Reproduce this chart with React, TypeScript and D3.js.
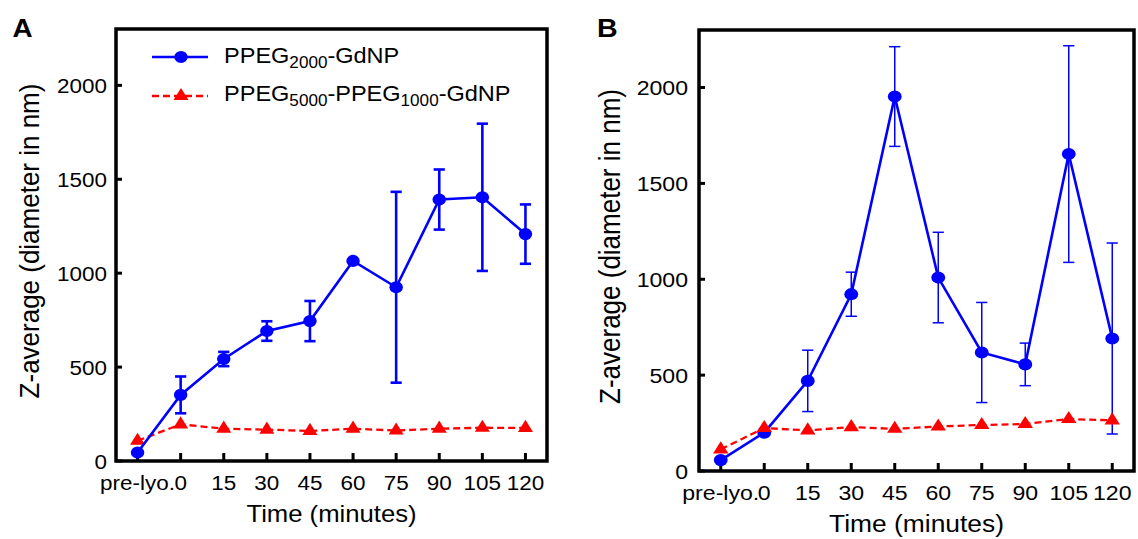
import React from 'react';
import * as d3 from 'd3';

// categories on the x axis
const times = ['pre-lyo.', '0', '15', '30', '45', '60', '75', '90', '105', '120'];
const yTicks = [0, 500, 1000, 1500, 2000];

// panel A
const aBlue = [45, 352, 543, 692, 745, 1065, 925, 1392, 1404, 1208];
const aBlueErr = [0, 98, 38, 52, 107, 0, 508, 160, 392, 158];
const aRed = [108, 195, 172, 167, 160, 172, 162, 172, 177, 176];

// panel B
const bBlue = [57, 200, 470, 922, 1953, 1009, 618, 556, 1653, 691];
const bBlueErr = [0, 0, 160, 115, 260, 236, 261, 111, 565, 498];
const bRed = [113, 224, 212, 229, 220, 232, 240, 245, 271, 264];

const FONT = '"Liberation Sans", Arial, Helvetica, sans-serif';
const BLUE = '#0000FF';
const RED = '#FF0000';

const triangle = d3.symbol().type(d3.symbolTriangle).size(85)();

// text that is a little wider than the font (the figure is stretched sideways)
const T = ({ x, y, k, size, anchor = 'start', bold = false, rotate = false, dy, children }: any) => (
  <text
    transform={`translate(${x},${y}) scale(${k},1)${rotate ? ' rotate(-90)' : ''}`}
    textAnchor={anchor}
    fontSize={size}
    fontWeight={bold ? 'bold' : 'normal'}
    dy={dy}
  >
    {children}
  </text>
);

type PanelProps = {
  letter: string;
  left: number;
  right: number;
  top: number;
  bottom: number;
  k: number;
  letterX: number;
  titleX: number;
  labelGap: number;
  blue: number[];
  blueErr: number[];
  red: number[];
  errWidth: number;
  redOnTop: boolean;
  legend?: boolean;
};

const Panel = (p: PanelProps) => {
  const x = d3.scalePoint<string>().domain(times).range([p.left, p.right]).padding(0.5);
  const y = d3.scaleLinear().domain([0, 2300]).range([p.bottom, p.top]);
  const cap = 5.6;

  const line = d3
    .line<number>()
    .x((_, i) => x(times[i]) as number)
    .y((d) => y(d));

  const blueGroup = (
    <g key="blue">
      {p.blue.map((v, i) => {
        if (!p.blueErr[i]) return null;
        const cx = x(times[i]) as number;
        const hi = y(v + p.blueErr[i]);
        const lo = y(v - p.blueErr[i]);
        return (
          <g key={i} stroke={BLUE} strokeWidth={p.errWidth}>
            <line x1={cx} x2={cx} y1={lo} y2={hi} />
            <line x1={cx - cap} x2={cx + cap} y1={hi} y2={hi} />
            <line x1={cx - cap} x2={cx + cap} y1={lo} y2={lo} />
          </g>
        );
      })}
      <path d={line(p.blue) || ''} fill="none" stroke={BLUE} strokeWidth={2.6} />
      {p.blue.map((v, i) => (
        <ellipse key={i} cx={x(times[i])} cy={y(v)} rx={6.3 * p.k} ry={6.1} fill={BLUE} />
      ))}
    </g>
  );

  const redGroup = (
    <g key="red">
      <path d={line(p.red) || ''} fill="none" stroke={RED} strokeWidth={2.3} strokeDasharray="7,4" />
      {p.red.map((v, i) => (
        <path key={i} d={triangle || ''} transform={`translate(${x(times[i])},${y(v)}) scale(${p.k},1)`} fill={RED} />
      ))}
    </g>
  );

  return (
    <g fontFamily={FONT}>
      <T x={p.letterX} y={37} k={p.k} size={26} bold>
        {p.letter}
      </T>

      {/* y ticks */}
      {yTicks.map((t) => (
        <g key={t}>
          <line x1={p.left} x2={p.left + 6} y1={y(t)} y2={y(t)} stroke="#000" strokeWidth={3} />
          <T x={p.left - p.labelGap} y={y(t)} k={p.k} size={21} anchor="end" dy="0.36em">
            {t}
          </T>
        </g>
      ))}

      {/* x ticks */}
      {times.map((t) => (
        <g key={t}>
          <line x1={x(t)} x2={x(t)} y1={p.bottom} y2={p.bottom - 8} stroke="#000" strokeWidth={3} />
          <T x={x(t)} y={p.bottom + 28.5} k={p.k} size={21} anchor="middle">
            {t}
          </T>
        </g>
      ))}

      {p.redOnTop ? [blueGroup, redGroup] : [redGroup, blueGroup]}

      <rect x={p.left} y={p.top} width={p.right - p.left} height={p.bottom - p.top} fill="none" stroke="#000" strokeWidth={3.5} />

      <T x={(p.left + p.right) / 2} y={p.bottom + 61} k={p.k} size={24} anchor="middle">
        Time (minutes)
      </T>
      <T x={p.titleX} y={(p.top + p.bottom) / 2 - 4} k={p.k} size={26} anchor="middle" rotate>
        Z-average (diameter in nm)
      </T>

      {p.legend && (
        <g>
          <line x1={152} x2={208} y1={57} y2={57} stroke={BLUE} strokeWidth={2.6} />
          <ellipse cx={181} cy={57} rx={6.3 * p.k} ry={6.1} fill={BLUE} />
          <T x={224} y={63} k={p.k} size={22}>
            PPEG<tspan fontSize={16} dy={5}>2000</tspan>
            <tspan dy={-5}>-GdNP</tspan>
          </T>
          <line x1={152} x2={208} y1={96} y2={96} stroke={RED} strokeWidth={2.3} strokeDasharray="7,4" />
          <path d={triangle || ''} transform={`translate(181,96) scale(${p.k},1)`} fill={RED} />
          <T x={224} y={100.5} k={p.k} size={22}>
            PPEG<tspan fontSize={16} dy={5}>5000</tspan>
            <tspan dy={-5}>-PPEG</tspan>
            <tspan fontSize={16} dy={5}>1000</tspan>
            <tspan dy={-5}>-GdNP</tspan>
          </T>
        </g>
      )}
    </g>
  );
};

const App = () => {
  return (
    <svg
      width={1138}
      height={539}
      style={{ position: 'absolute', left: 0, top: 0, background: '#fff' }}
    >
      <Panel
        letter="A"
        left={116}
        right={547}
        top={29}
        bottom={461}
        k={1.07}
        letterX={12.5}
        titleX={39}
        labelGap={9}
        blue={aBlue}
        blueErr={aBlueErr}
        red={aRed}
        errWidth={2.6}
        redOnTop={false}
        legend
      />
      <Panel
        letter="B"
        left={699}
        right={1134}
        top={30}
        bottom={471}
        k={1.1}
        letterX={597}
        titleX={620}
        labelGap={11}
        blue={bBlue}
        blueErr={bBlueErr}
        red={bRed}
        errWidth={1.5}
        redOnTop
      />
    </svg>
  );
};

export default App;
